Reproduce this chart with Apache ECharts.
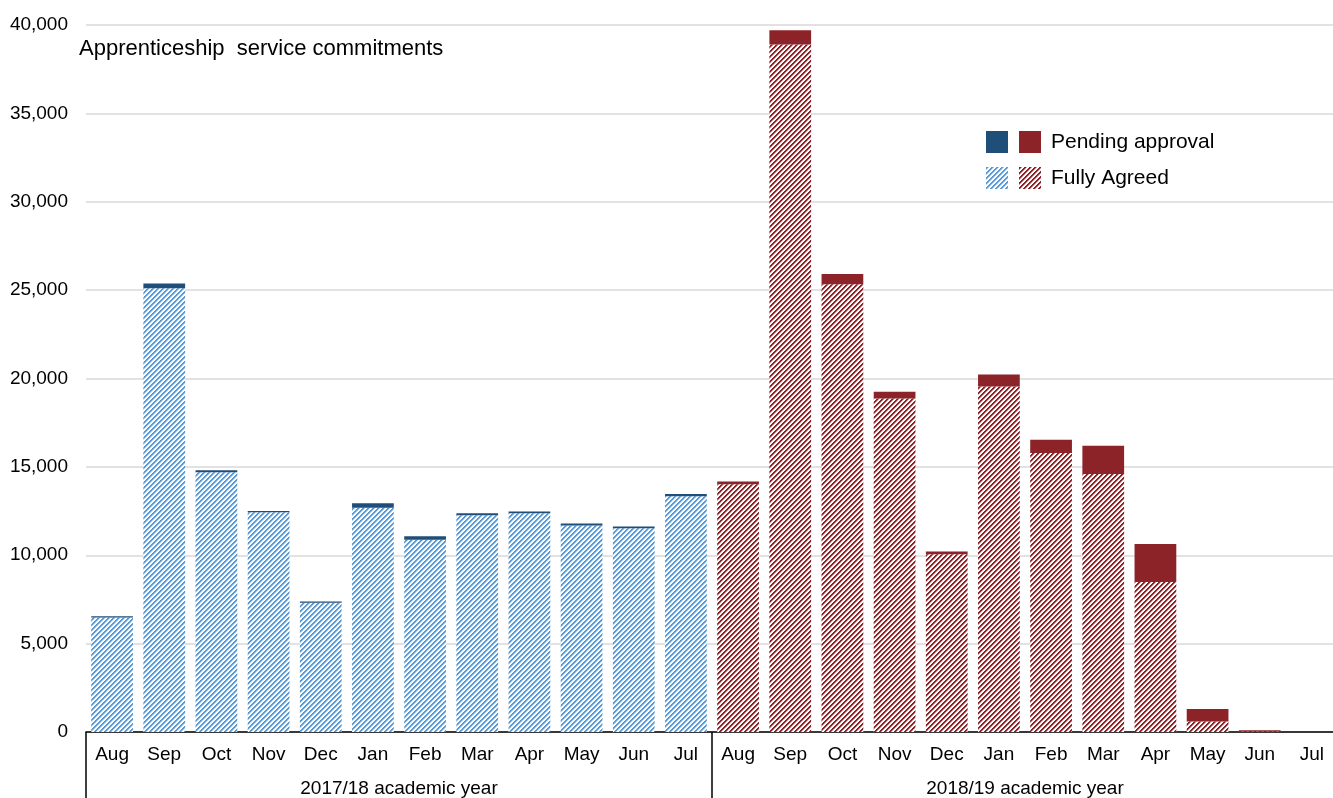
<!DOCTYPE html>
<html>
<head>
<meta charset="utf-8">
<script src="https://cdn.jsdelivr.net/npm/echarts@6/dist/echarts.min.js"></script>
<style>
    html, body { margin: 0; padding: 0; background: #fff; overflow: hidden; }
    #main { width: 1345px; height: 798px; }
</style>
</head>
<body>
<div id="main"></div>
<script>
var months = ['Aug', 'Sep', 'Oct', 'Nov', 'Dec', 'Jan', 'Feb', 'Mar', 'Apr', 'May', 'Jun', 'Jul',
              'Aug', 'Sep', 'Oct', 'Nov', 'Dec', 'Jan', 'Feb', 'Mar', 'Apr', 'May', 'Jun', 'Jul'];
var years = ['2017/18 academic year', '2018/19 academic year'];

// 2017/18 academic year
var agreed1718 = [6480, 25110, 14700, 12430, 7310, 12690, 10870, 12260, 12370, 11680, 11530, 13340];
var pending1718 = [70, 270, 110, 70, 70, 250, 200, 110, 110, 110, 90, 130];
// 2018/19 academic year
var agreed1819 = [14020, 38900, 25330, 18870, 10060, 19550, 15790, 14590, 8480, 600, 30, 0];
var pending1819 = [150, 810, 580, 380, 150, 680, 750, 1610, 2150, 700, 70, 0];

var font = '"Liberation Sans", Arial, sans-serif';

// diagonal hatch tile, stripes going "/"
function hatch(color) {
    var n = 5;
    var c = document.createElement('canvas');
    c.width = n;
    c.height = n;
    var ctx = c.getContext('2d');
    ctx.fillStyle = '#ffffff';
    ctx.fillRect(0, 0, n, n);
    for (var x = 0; x < n; x++) {
        for (var y = 0; y < n; y++) {
            var d = (x + y) % n;
            if (d < 2) {
                ctx.globalAlpha = 1;
            } else if (d === 2) {
                ctx.globalAlpha = 0.45;
            } else {
                continue;
            }
            ctx.fillStyle = color;
            ctx.fillRect(x, y, 1, 1);
        }
    }
    return {image: c, repeat: 'repeat'};
}

function pad(arr, before) {
    var empty = [];
    for (var i = 0; i < arr.length; i++) empty.push('-');
    return before ? empty.concat(arr) : arr.concat(empty);
}

var myChart = echarts.init(document.getElementById('main'));

var option = {
    animation: false,
    textStyle: {fontFamily: font},
    grid: {left: 86, top: 25, width: 1252, height: 708},
    graphic: [{
        type: 'text',
        left: 79,
        top: 38,
        style: {text: 'Apprenticeship  service commitments', font: '22px ' + font, fill: '#000'}
    }],
    legend: [{
        orient: 'vertical',
        left: 986,
        top: 131,
        padding: 0,
        itemWidth: 22,
        itemHeight: 22,
        itemGap: 14,
        icon: 'rect',
        selectedMode: false,
        formatter: function () { return ''; },
        data: ['Pending approval 2017/18', 'Fully Agreed 2017/18']
    }, {
        orient: 'vertical',
        left: 1019,
        top: 131,
        padding: 0,
        itemWidth: 22,
        itemHeight: 22,
        itemGap: 14,
        icon: 'rect',
        selectedMode: false,
        textStyle: {fontSize: 21, color: '#000', fontFamily: font, padding: [0, 0, 0, 5]},
        formatter: function (name) { return name.replace(/ 20\d\d\/\d\d$/, ''); },
        data: ['Pending approval 2018/19', 'Fully Agreed 2018/19']
    }],
    xAxis: [{
        type: 'category',
        data: months,
        axisLine: {lineStyle: {color: '#000', width: 1.5}},
        axisTick: {show: false},
        axisLabel: {fontSize: 19, color: '#000', margin: 13, interval: 0}
    }, {
        type: 'category',
        data: years,
        position: 'bottom',
        axisLine: {show: false},
        axisTick: {show: true, length: 70, lineStyle: {color: '#000', width: 1.5}},
        axisLabel: {fontSize: 19, color: '#000', margin: 47}
    }],
    yAxis: {
        type: 'value',
        min: 0,
        max: 40000,
        interval: 5000,
        axisLine: {show: false},
        axisTick: {show: false},
        splitLine: {lineStyle: {color: '#d9d9d9', width: 1.5}},
        axisLabel: {
            fontSize: 19,
            color: '#000',
            margin: 18,
            formatter: function (v) { return v.toLocaleString('en-US'); }
        }
    },
    series: [{
        name: 'Fully Agreed 2017/18',
        type: 'bar',
        stack: 'total',
        barWidth: '80%',
        itemStyle: {color: hatch('#5b9bd5')},
        data: pad(agreed1718, false)
    }, {
        name: 'Pending approval 2017/18',
        type: 'bar',
        stack: 'total',
        barWidth: '80%',
        itemStyle: {color: '#1f4e79'},
        data: pad(pending1718, false)
    }, {
        name: 'Fully Agreed 2018/19',
        type: 'bar',
        stack: 'total',
        barWidth: '80%',
        itemStyle: {color: hatch('#8b2329')},
        data: pad(agreed1819, true)
    }, {
        name: 'Pending approval 2018/19',
        type: 'bar',
        stack: 'total',
        barWidth: '80%',
        itemStyle: {color: '#8b2329'},
        data: pad(pending1819, true)
    }]
};

myChart.setOption(option);
</script>
</body>
</html>
